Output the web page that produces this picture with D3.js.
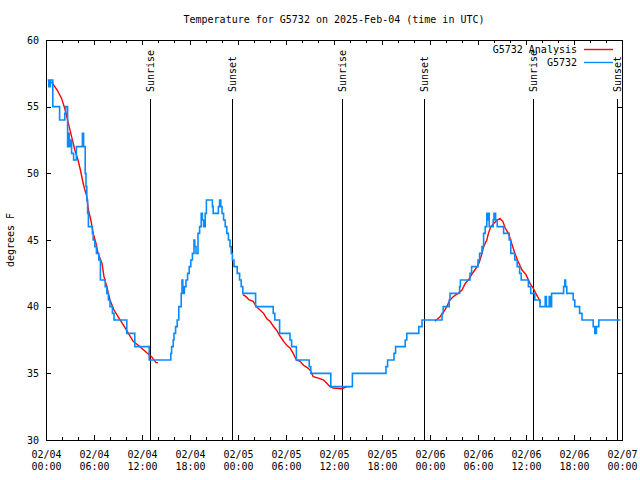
<!DOCTYPE html>
<html><head><meta charset="utf-8">
<script src="https://cdn.jsdelivr.net/npm/d3@7"></script>
<style>
html,body{margin:0;padding:0;background:#fff;}
svg{display:block;}
text{font-family:"DejaVu Sans Mono","Liberation Mono",monospace;font-size:10px;fill:#000;}
</style></head>
<body>
<svg id="chart" width="640" height="480"></svg>
<script>
// ---- data (hours since 2025-02-04 00:00 UTC) ----
const title = "Temperature for G5732 on 2025-Feb-04 (time in UTC)";
const yLabel = "degrees F";
const seriesNames = ["G5732 Analysis", "G5732"];

const obsHours = [0.2,0.35,0.55,0.85,1.7,2.35,2.45,2.7,2.8,2.9,3.05,3.2,3.45,3.8,4.55,4.7,4.9,5.0,5.1,5.2,5.3,5.8,5.9,6.1,6.3,6.6,6.8,7.4,7.6,7.8,8.0,8.3,8.5,10.1,11.1,12.9,15.6,15.7,15.9,16.0,16.2,16.4,16.6,16.9,17.0,17.1,17.2,17.3,17.5,17.7,17.9,18.1,18.3,18.5,18.6,18.75,19.0,19.2,19.4,19.55,19.7,19.9,20.05,20.8,20.9,21.55,21.7,21.85,22.0,22.2,22.4,22.6,22.8,23.0,23.15,23.3,23.5,23.9,24.2,24.4,24.6,26.2,28.4,28.6,29.2,30.5,30.7,31.3,32.9,33.1,35.6,38.3,42.5,42.7,43.5,43.7,44.9,45.1,46.6,47.0,49.5,49.65,50.4,50.5,51.7,51.8,53.0,53.2,54.0,54.2,54.5,54.7,54.9,55.1,55.2,55.3,55.4,55.9,56.0,56.2,56.4,57.2,57.9,58.1,58.6,58.9,59.2,59.4,60.3,60.6,61.1,61.75,62.4,62.55,62.9,63.0,63.2,64.7,64.85,64.95,65.1,65.9,66.1,66.7,67.0,68.4,68.6,68.8,69.1,71.8];
const obsTemps = [57,56.5,57,55,54,54.5,55,52,53,52,52.5,51.5,51,52,53,52,50,49,48,47,46,45.5,45,44.5,44,43.5,42,41.5,41,40.5,40,39.5,39,38,37,36,36.5,37,37.5,38,38.5,39,40,41,42,41.5,41,41.5,42,42.5,43,43.5,44,45,44.5,44,45.5,46,47,46.5,46,47,48,47.5,47,47.5,48,47.5,47,46.5,46,45.5,45,44.5,44,43.5,43,42.5,42,41.5,41,40,39.5,39,38,37.5,37,36,35.5,35,34,35,35.5,36,36.5,37,37.5,38,38.5,39,39.5,40,40.5,41,41.5,42,42.5,43,43.5,44,44.5,45.5,46,47,46.5,47,46,46.5,47,46.5,46,45.5,45,44,43.5,43,42.5,42,41.5,41,40.5,40,40.75,40,40.75,40,41,41.5,42,41.5,41,40.5,40,39.5,39,38.5,38,38.5,39,39];

// analysis: null separates the three pieces
const anaHours = [0.6,0.8,1.4,1.96,2.4,2.8,3.2,3.6,4.0,4.3,4.7,5.1,5.3,5.6,5.9,6.25,6.5,7.0,7.25,7.6,8.0,8.5,9.0,9.7,10.3,10.9,11.75,12.6,13.2,13.75,14.0,
  null,
  24.6,25.0,25.4,25.9,26.3,26.75,27.2,27.6,28.0,28.4,28.8,29.25,29.7,30.1,30.5,30.9,31.3,31.75,32.2,32.6,33.0,33.4,34.25,34.7,35.1,35.5,35.9,37.0,37.6,38.0,
  null,
  48.6,49.25,49.7,50.1,50.5,50.9,51.5,52.0,52.4,52.8,53.2,53.6,54.0,54.25,54.5,54.7,55.1,55.3,55.6,56.0,56.4,56.75,57.1,57.4,57.8,58.2,58.6,59.0,59.5,60.0,60.5,60.9,61.3,61.7,61.8];
const anaTemps = [56.85,56.75,56.25,55.6,54.75,53.75,52.75,51.75,51.0,50.25,49.1,48.25,47.25,46.5,45.5,44.75,44.0,43.25,42.25,41.5,40.5,39.75,39.25,38.6,38.0,37.4,37.0,36.55,36.25,35.8,35.8,
  null,
  40.9,40.75,40.5,40.4,40.0,39.75,39.5,39.1,38.9,38.55,38.25,37.8,37.4,37.1,36.9,36.5,36.0,35.9,35.6,35.45,35.25,34.75,34.6,34.5,34.25,34.0,33.9,33.85,34.0,34.0,
  null,
  38.9,39.25,39.6,40.0,40.5,40.75,41.0,41.25,41.75,42.0,42.4,42.75,43.1,43.5,44.0,44.5,45.0,45.5,46.0,46.25,46.5,46.6,46.4,45.9,45.5,44.75,44.0,43.4,42.75,42.4,41.75,41.4,40.9,40.5,40.25];

const sunEventHours = [13.0, 23.27, 37.0, 47.3, 60.9, 71.35];
const sunEventNames = ["Sunrise","Sunset","Sunrise","Sunset","Sunrise","Sunset"];
const yTicks = [30,35,40,45,50,55,60];
const xDomainHours = [0, 72];
const xMajorStepHours = 6, xMinorStepHours = 2;

// ---- helpers ----
const t0 = Date.UTC(2025,1,4,0,0);
const toDate = h => new Date(t0 + h*3600e3);

const svg = d3.select("#chart");
const L = 46, R = 622, T = 40, B = 440;
const x = d3.scaleUtc().domain(xDomainHours.map(toDate)).range([L, R]);
const y = d3.scaleLinear().domain([30, 60]).range([B, T]);

const majorDates = d3.range(xDomainHours[0], xDomainHours[1] + 0.001, xMajorStepHours).map(toDate);
const minorDates = d3.range(xDomainHours[0], xDomainHours[1] + 0.001, xMinorStepHours)
  .filter(h => h % xMajorStepHours !== 0).map(toDate);

function styleAxis(g){
  g.select(".domain").remove();
  g.selectAll("line").attr("stroke","#000").attr("shape-rendering","crispEdges");
  g.attr("font-family",null).attr("font-size",null);
}

// bottom axis, major with two-line labels
const fmtD = d3.utcFormat("%m/%d"), fmtT = d3.utcFormat("%H:%M");
const gb = svg.append("g").attr("transform",`translate(0,${B})`)
  .call(d3.axisBottom(x).tickValues(majorDates).tickSizeInner(-5).tickSizeOuter(0).tickPadding(0).tickFormat(""));
styleAxis(gb);
gb.selectAll(".tick").each(function(d){
  const t = d3.select(this).select("text").attr("y", 0).attr("dy", null);
  t.append("tspan").attr("x",0).attr("y",18).text(fmtD(d));
  t.append("tspan").attr("x",0).attr("y",30).text(fmtT(d));
});
svg.append("g").attr("transform",`translate(0,${B})`)
  .call(d3.axisBottom(x).tickValues(minorDates).tickSizeInner(-3).tickSizeOuter(0).tickFormat(""))
  .call(styleAxis);
// top axis
svg.append("g").attr("transform",`translate(0,${T})`)
  .call(d3.axisTop(x).tickValues(majorDates).tickSizeInner(-5).tickSizeOuter(0).tickFormat(""))
  .call(styleAxis);
svg.append("g").attr("transform",`translate(0,${T})`)
  .call(d3.axisTop(x).tickValues(minorDates).tickSizeInner(-3).tickSizeOuter(0).tickFormat(""))
  .call(styleAxis);
// left axis
const gl = svg.append("g").attr("transform",`translate(${L},0)`)
  .call(d3.axisLeft(y).tickValues(yTicks).tickSizeInner(-5).tickSizeOuter(0).tickPadding(7).tickFormat(d3.format("d")));
styleAxis(gl);
// right axis
svg.append("g").attr("transform",`translate(${R},0)`)
  .call(d3.axisRight(y).tickValues(yTicks).tickSizeInner(-5).tickSizeOuter(0).tickFormat(""))
  .call(styleAxis);

// frame
svg.append("rect").attr("x",L+0.5).attr("y",T+0.5).attr("width",R-L).attr("height",B-T)
  .attr("fill","none").attr("stroke","#000").attr("stroke-width",1).attr("shape-rendering","crispEdges");

// sun events
const sun = svg.append("g").selectAll("g").data(sunEventHours.map((h,i)=>({h, name: sunEventNames[i]})))
  .join("g");
sun.append("line")
  .attr("x1", d => Math.round(x(toDate(d.h)))+0.5).attr("x2", d => Math.round(x(toDate(d.h)))+0.5)
  .attr("y1", 99).attr("y2", B)
  .attr("stroke","#000").attr("stroke-width",1).attr("shape-rendering","crispEdges");
sun.append("text")
  .attr("transform", d => `translate(${Math.round(x(toDate(d.h)))+0.5},92) rotate(-90)`)
  .attr("text-anchor","start").attr("dy","0.35em")
  .text(d => d.name);

// analysis (red)
const anaData = anaHours.map((h,i)=>({h, v: anaTemps[i]}));
svg.append("path").datum(anaData)
  .attr("fill","none").attr("stroke","#ff0000").attr("stroke-width",1.4)
  .attr("d", d3.line().defined(d => d.h !== null && d.v !== null)
    .x(d => x(toDate(d.h))).y(d => y(d.v)));

// observations (blue)
const obsData = obsHours.map((h,i)=>({h, v: obsTemps[i]}));
svg.append("path").datum(obsData)
  .attr("fill","none").attr("stroke","#0a8aff").attr("stroke-width",1.6)
  .attr("stroke-linejoin","miter")
  .attr("d", d3.line().curve(d3.curveStepAfter).x(d => x(toDate(d.h))).y(d => y(d.v)));

// title and y label
svg.append("text").attr("x",(L+R)/2).attr("y",23).attr("text-anchor","middle").text(title);
svg.append("text").attr("transform","translate(14,240) rotate(-90)").attr("text-anchor","middle").text(yLabel);

// legend
const legColors = ["#ff0000","#0a8aff"];
seriesNames.forEach((name,i)=>{
  const yy = 49 + i*13;
  svg.append("text").attr("x",577).attr("y",yy).attr("dy","0.35em").attr("text-anchor","end").text(name);
  svg.append("line").attr("x1",584).attr("x2",613).attr("y1",yy+0.5).attr("y2",yy+0.5)
    .attr("stroke",legColors[i]).attr("stroke-width",1.4);
});
</script>
</body></html>
